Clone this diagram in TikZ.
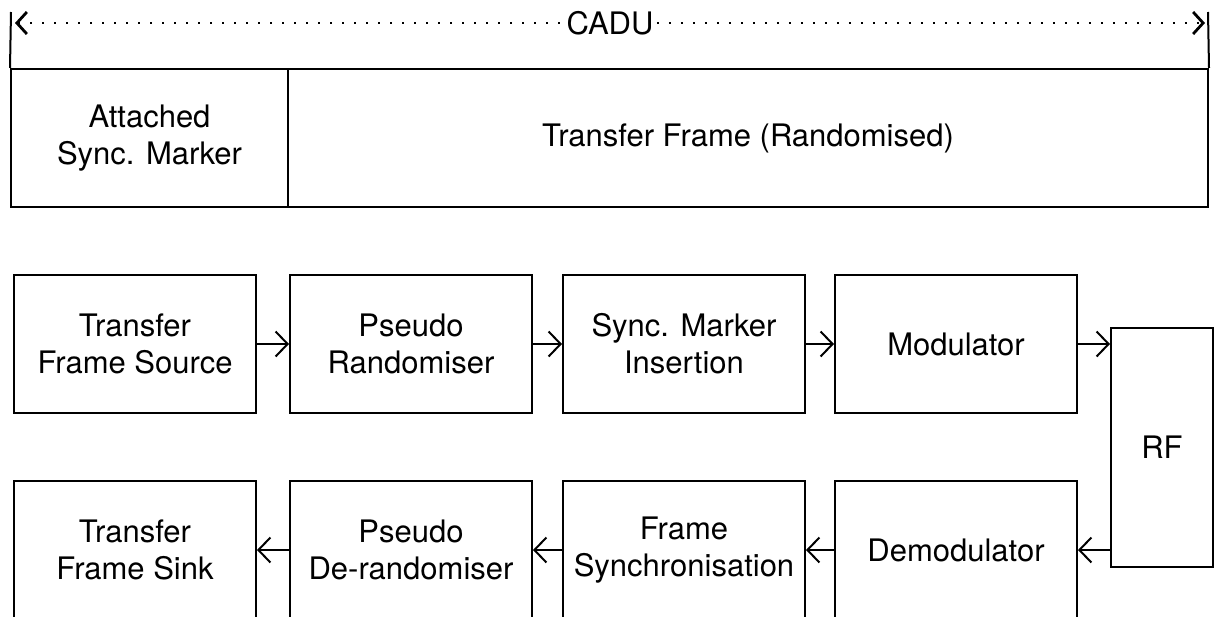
\documentclass[tikz,border=0pt]{standalone}
\usepackage{fontspec}
\setmainfont{TeX Gyre Heros}
\usepackage{tikz}
\usetikzlibrary{arrows.meta}

\tikzset{
  blok/.style={draw, line width=1pt, rectangle, inner sep=0pt, align=center,
    minimum width=121pt, minimum height=69pt, font=\fontsize{15.5}{18.5}\selectfont},
  fleche/.style={line width=0.8pt, -{Straight Barb[length=6pt,width=12.5pt,line width=1pt]}},
  pointille/.style={line width=1.1pt, dash pattern=on 0.9pt off 5.1pt}
}

\begin{document}
\begin{tikzpicture}[x=0.5pt,y=-0.5pt]
\useasboundingbox (0,0) rectangle (1215,616);

% trame CADU
\node [blok, minimum width=138.5pt] (asm) at (149.5,138) {Attached\\Sync. Marker};
\node [blok, minimum width=460pt] (tf) at (748,138) {Transfer Frame (Randomised)};
\node [font=\fontsize{15.5}{18.5}\selectfont, inner sep=1.5pt] (cadu) at (610,23) {CADU};
\coordinate (hg) at (11,12);
\coordinate (hd) at (1208,12);
\coordinate (pg) at (15,23);
\coordinate (pd) at (1205,23);
\draw [line width=1pt] (asm.north west) -- (hg);
\draw [line width=1pt] (tf.north east) -- (hd);
\draw [pointille, {Straight Barb[length=5pt,width=11pt,line width=1.4pt]}-] (pg) -- (cadu.west);
\draw [pointille, -{Straight Barb[length=5pt,width=11pt,line width=1.4pt]}] (cadu.east) -- (pd);

% emission
\node [blok] (source) at (135,344) {Transfer\\Frame Source};
\node [blok] (random) at (411,344) {Pseudo\\Randomiser};
\node [blok] (insert) at (684,344) {Sync. Marker\\Insertion};
\node [blok] (modul) at (956,344) {Modulator};
\node [blok, minimum width=51pt, minimum height=119.5pt] (rf) at (1162,447.5) {RF};

% reception
\node [blok] (sink) at (135,550) {Transfer\\Frame Sink};
\node [blok] (derandom) at (411,550) {Pseudo\\De-randomiser};
\node [blok] (synchro) at (684,550) {Frame\\Synchronisation};
\node [blok] (demodul) at (956,550) {Demodulator};

\draw [fleche] (source) -- (random);
\draw [fleche] (random) -- (insert);
\draw [fleche] (insert) -- (modul);
\draw [fleche] (modul.east) -- (modul.east -| rf.west);
\draw [fleche] (demodul.east -| rf.west) -- (demodul.east);
\draw [fleche] (demodul) -- (synchro);
\draw [fleche] (synchro) -- (derandom);
\draw [fleche] (derandom) -- (sink);
\end{tikzpicture}
\end{document}
